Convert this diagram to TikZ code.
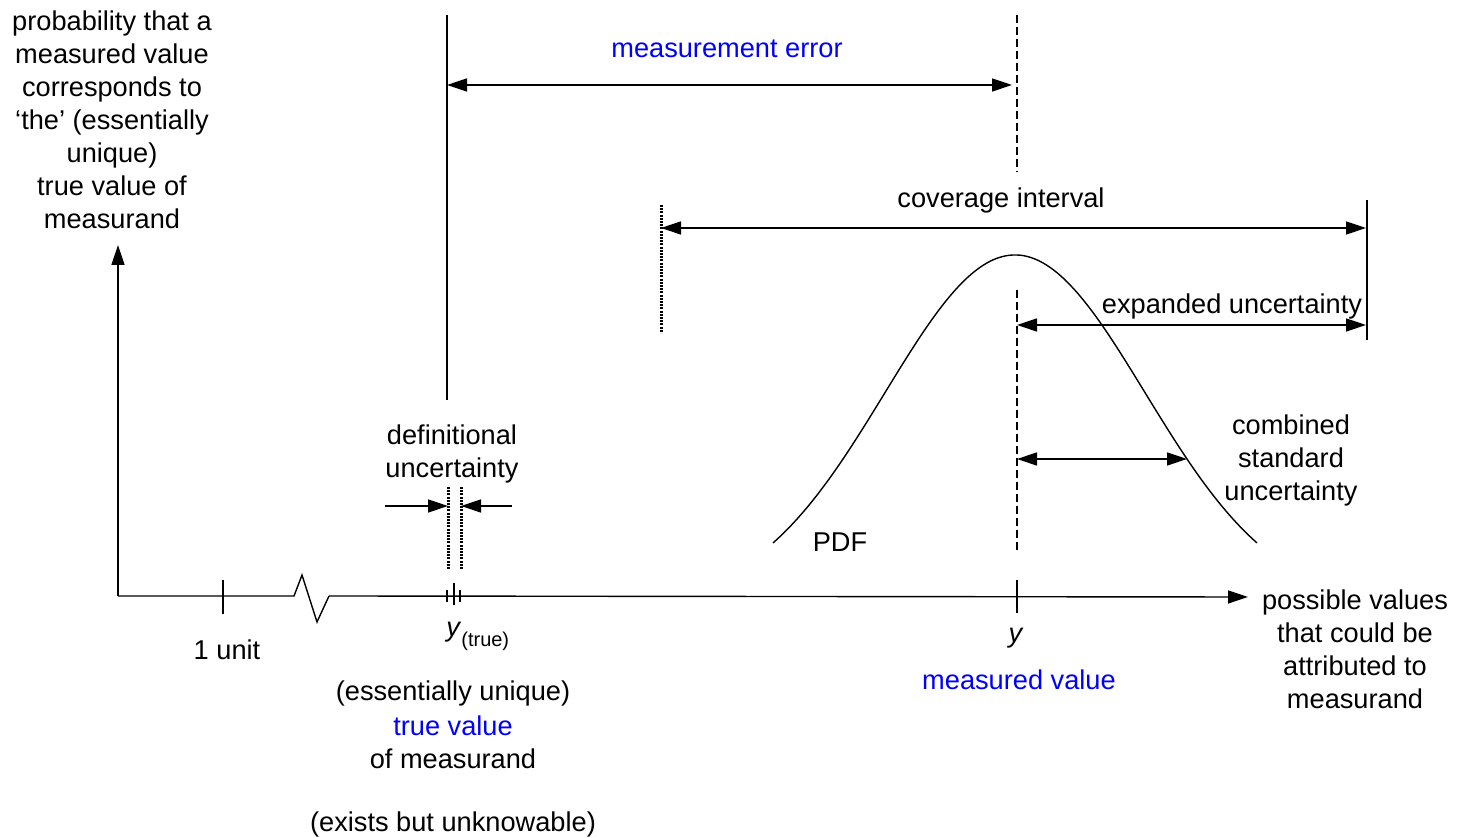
\documentclass[tikz,border=0pt]{standalone}
\usepackage{fontspec}
\setmainfont{Liberation Sans}
\usetikzlibrary{arrows.meta}
\begin{document}
\begin{tikzpicture}[x=0.5pt,y=-0.5pt,
 lbl/.style={font=\fontsize{13.6}{16.5}\selectfont, inner sep=0pt, align=center},
 bl/.style={lbl, text=blue},
 ln/.style={line width=0.7pt},
 arr/.style={ln, -{Triangle[length=10pt,width=6.5pt]}},
 darr/.style={ln, {Triangle[length=10pt,width=6.5pt]}-{Triangle[length=10pt,width=6.5pt]}},
 dotln/.style={line width=1.5pt, dash pattern=on 1pt off 0.6pt},
 dashln/.style={line width=1.1pt, dash pattern=on 4pt off 2pt}]
\useasboundingbox (0,0) rectangle (1462,838);
% axes
\coordinate (O) at (118,596);
\coordinate (ytop) at (118,245);
\coordinate (zA) at (294,596);
\coordinate (zB) at (302,575);
\coordinate (zC) at (317,622);
\coordinate (zD) at (329,596);
\coordinate (xend) at (1248,597);
\draw[arr] (O) -- (ytop);
\draw[ln] (O) -- (zA) -- (zB) -- (zC) -- (zD);
\draw[arr] (zD) -- (xend);
% ticks
\draw[ln] (223,580) -- (223,614);
\draw[ln] (454,583) -- (454,605);
\draw[ln] (447,590) -- (447,602);
\draw[ln] (460,590) -- (460,602);
\draw[ln] (1017,580) -- (1017,613);
% true value vertical line
\coordinate (tvTop) at (447,15);
\coordinate (tvBot) at (447,400);
\draw[ln] (tvTop) -- (tvBot);
% measured value dashed line
\coordinate (mvTop) at (1017,15);
\coordinate (mvMid) at (1017,172);
\coordinate (mvLow) at (1017,290);
\coordinate (mvBot) at (1017,552);
\draw[dashln] (mvTop) -- (mvMid);
\draw[dashln] (mvLow) -- (mvBot);
% measurement error
\coordinate (meL) at (447,85);
\coordinate (meR) at (1012,85);
\draw[darr] (meL) -- (meR);
\node[bl] (metext) at (727,49) {measurement error};
% coverage interval
\coordinate (ciTop) at (661,205);
\coordinate (ciBot) at (661,333);
\draw[dotln] (ciTop) -- (ciBot);
\coordinate (ciRTop) at (1367,200);
\coordinate (ciRBot) at (1367,340);
\draw[ln] (ciRTop) -- (ciRBot);
\coordinate (ciL) at (661,228);
\coordinate (ciR) at (1366,228);
\draw[darr] (ciL) -- (ciR);
\node[lbl] (citext) at (1001,200) {coverage interval};
% expanded uncertainty
\coordinate (euL) at (1017,325);
\coordinate (euR) at (1366,325);
\draw[darr] (euL) -- (euR);
\node[lbl] (eutext) at (1232,306) {expanded uncertainty};
% combined standard uncertainty
\coordinate (cuL) at (1017,459);
\coordinate (cuR) at (1187,459);
\draw[darr] (cuL) -- (cuR);
\node[lbl] (cutext) at (1291,460) {combined\\standard\\uncertainty};
% PDF curve
\draw[ln] plot[domain=-2.42:2.42, samples=121, smooth] ({1015+100*\x}, {604.8-349.8*exp(-\x*\x/3.38)});
\node[lbl] (pdf) at (840,542) {PDF};
% definitional uncertainty
\coordinate (d1Top) at (448,487);
\coordinate (d1Bot) at (448,570);
\coordinate (d2Top) at (461,487);
\coordinate (d2Bot) at (461,570);
\draw[dotln] (d1Top) -- (d1Bot);
\draw[dotln] (d2Top) -- (d2Bot);
\coordinate (daL) at (385,506);
\coordinate (daLt) at (448,506);
\coordinate (daR) at (512,506);
\coordinate (daRt) at (461,506);
\draw[arr] (daL) -- (daLt);
\draw[arr] (daR) -- (daRt);
\node[lbl] (deftext) at (452,454) {definitional\\uncertainty};
% labels
\node[lbl] (ylabel) at (112,120) {probability that a\\measured value\\corresponds to\\‘the’ (essentially\\unique)\\true value of\\measurand};
\node[lbl] (xlabel) at (1355,649) {possible values\\that could be\\attributed to\\measurand};
\node[lbl] (unit) at (227,650) {1 unit};
\node[lbl, anchor=west] (ytrue) at (446,636) {\textit{y}\raisebox{-0.7ex}{\fontsize{10}{12}\selectfont(true)}};
\node[lbl] (ymeas) at (1016,638) {\textit{y}};
\node[bl] (mvtext) at (1019,680) {measured value};
\node[lbl] (tv1) at (453,693) {(essentially unique)};
\node[bl] (tv2) at (453,726) {true value};
\node[lbl] (tv3) at (453,759) {of measurand};
\node[lbl] (tv4) at (453,824) {(exists but unknowable)};
\end{tikzpicture}
\end{document}
